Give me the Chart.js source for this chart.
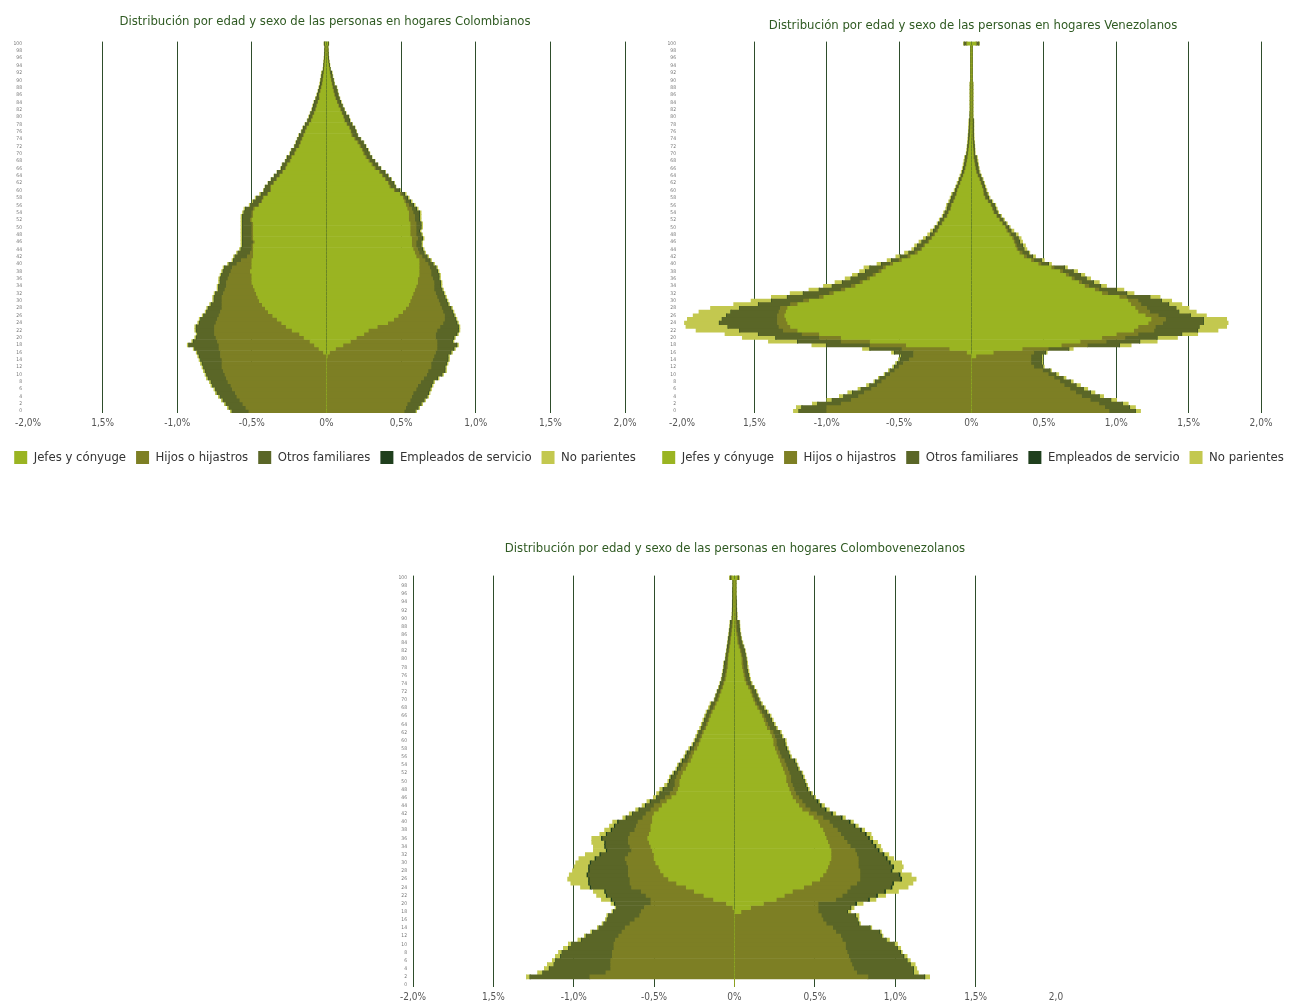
<!DOCTYPE html>
<html lang="es">
<head>
<meta charset="utf-8">
<title>Distribución por edad y sexo</title>
<script src="https://cdn.jsdelivr.net/npm/chart.js@4.4.1/dist/chart.umd.min.js"></script>
<style>
  html, body { margin: 0; padding: 0; background: #fff; overflow: hidden; }
  body { width: 1296px; height: 1002px; position: relative; }
  .box { position: absolute; }
</style>
</head>
<body>
<div class="box" style="left:0;top:0;width:650px;height:474px"><canvas id="chartCol"></canvas></div>
<div class="box" style="left:650px;top:0;width:646px;height:474px"><canvas id="chartVen"></canvas></div>
<div class="box" style="left:380px;top:520px;width:710px;height:482px"><canvas id="chartMix"></canvas></div>
<script>
// edades 0..100 (categorías del eje vertical)
const ages = Array.from({length: 101}, (_, i) => String(i));

const seriesNames = ['Jefes y cónyuge', 'Hijos o hijastros', 'Otros familiares', 'Empleados de servicio', 'No parientes'];
const seriesColors = ['#9ab422', '#7d7f24', '#5a6627', '#1f3f1d', '#c3c84f'];

const xLabelsComa = ['-2,0%', '1,5%', '-1,0%', '-0,5%', '0%', '0,5%', '1,0%', '1,5%', '2,0%'];
const xLabelsMix = ['-2,0%', '1,5%', '-1,0%', '-0,5%', '0%', '0,5%', '1,0%', '1,5%', '2,0'];

// ---- Hogares colombianos: hombres (% del total, se dibujan a la izquierda)
const colHJefes = [0,0,0,0,0,0,0,0,0,0,
  0,0,0,0,0,0,0.02,0.05,0.08,0.11,
  0.15,0.18,0.23,0.27,0.30,0.33,0.36,0.39,0.41,0.43,
  0.45,0.46,0.47,0.48,0.49,0.50,0.50,0.50,0.51,0.50,
  0.50,0.50,0.49,0.49,0.49,0.49,0.48,0.49,0.49,0.49,
  0.49,0.49,0.50,0.49,0.49,0.48,0.45,0.43,0.42,0.39,
  0.37,0.37,0.35,0.33,0.31,0.29,0.27,0.26,0.24,0.23,
  0.21,0.20,0.18,0.17,0.16,0.15,0.14,0.13,0.115,0.10,
  0.09,0.08,0.07,0.063,0.055,0.045,0.046,0.038,0.032,0.026,
  0.022,0.019,0.016,0.014,0.011,0.009,0.007,0.005,0.004,0.003,
  0.008];
const colHHijos = [0.52,0.54,0.56,0.58,0.60,0.61,0.63,0.64,0.66,0.67,
  0.68,0.69,0.70,0.70,0.70,0.71,0.69,0.67,0.64,0.62,
  0.59,0.57,0.52,0.48,0.44,0.40,0.36,0.32,0.29,0.27,
  0.25,0.24,0.22,0.20,0.18,0.17,0.16,0.15,0.13,0.13,
  0.10,0.07,0.04,0.02,0.01,0.01,0.01,0.01,0.01,0.01,
  0.01,0.01,0.01,0.01,0.01,0.01,0.005,0.005,0.005,0.005,
  0.005,0.005,0.005,0.005,0.005,0.005,0.005,0.005,0.005,0.005,
  0.005,0.005,0.005,0.005,0.005,0.005,0.003,0.003,0.003,0.003,
  0.003,0.003,0.003,0.003,0.003,0.003,0.003,0.003,0.003,0.003,
  0.003,0.001,0.001,0.001,0.001,0.001,0.001,0.001,0.001,0.001,
  0];
const colHOtros = [0.11,0.11,0.11,0.11,0.11,0.12,0.11,0.12,0.11,0.12,
  0.12,0.12,0.12,0.13,0.14,0.14,0.15,0.16,0.20,0.16,
  0.13,0.11,0.12,0.12,0.11,0.11,0.10,0.09,0.09,0.07,
  0.05,0.05,0.05,0.04,0.05,0.04,0.05,0.05,0.05,0.05,
  0.05,0.05,0.08,0.08,0.07,0.06,0.07,0.06,0.06,0.06,
  0.06,0.06,0.05,0.06,0.05,0.05,0.05,0.05,0.04,0.04,
  0.04,0.03,0.03,0.03,0.03,0.03,0.025,0.025,0.025,0.025,
  0.025,0.025,0.025,0.025,0.025,0.025,0.02,0.02,0.02,0.02,
  0.02,0.02,0.02,0.02,0.02,0.02,0.01,0.01,0.01,0.01,
  0.01,0.01,0.01,0.005,0.005,0.005,0.005,0.005,0.005,0.005,
  0.004];
const colHEmpleados = [0.003,0.003,0.003,0.003,0.003,0.003,0.003,0.003,0.003,0.003,
  0.003,0.003,0.003,0.003,0.003,0.003,0.003,0.003,0.003,0.003,
  0.003,0.003,0.003,0.003,0.003,0.003,0.003,0.003,0.003,0.003,
  0.003,0.003,0.003,0.003,0.003,0.003,0.003,0.003,0.003,0.003,
  0.003,0.003,0.003,0.003,0.003,0.003,0.003,0.003,0.003,0.003,
  0.003,0.003,0.003,0.003,0.003,0.003,0.003,0.003,0.003,0.003,
  0.003,0.003,0.003,0.003,0.003,0.003,0.003,0.003,0.003,0.003,
  0.002,0.002,0.002,0.002,0.002,0.002,0.002,0.002,0.002,0.002,
  0.002,0.002,0.002,0.002,0.002,0.002,0.002,0.002,0.002,0.002,
  0.002,0.002,0.002,0.001,0.001,0.001,0.001,0.001,0.001,0.001,
  0.001];
const colHNoPar = [0.01,0.01,0.01,0.01,0.01,0.01,0.01,0.01,0.01,0.01,
  0.01,0.01,0.01,0.01,0.01,0.01,0.01,0.01,0.01,0.01,
  0.01,0.01,0.01,0.01,0.01,0.01,0.01,0.01,0.01,0.01,
  0.01,0.01,0.01,0.01,0.01,0.01,0.01,0.01,0.01,0.01,
  0.01,0.01,0.01,0.01,0.01,0.01,0.01,0.01,0.01,0.01,
  0.01,0.01,0.01,0.01,0.01,0.01,0.01,0.01,0.01,0.01,
  0.005,0.005,0.005,0.005,0.005,0.005,0.005,0.005,0.005,0.005,
  0.005,0.005,0.005,0.005,0.005,0.005,0.005,0.005,0.005,0.005,
  0.005,0.005,0.005,0.005,0.005,0.005,0.005,0.005,0.005,0.005,
  0.005,0.005,0.005,0.003,0.003,0.003,0.003,0.003,0.003,0.003,
  0.003];

// ---- Hogares colombianos: mujeres (a la derecha)
const colMJefes = [0,0,0,0,0,0,0,0,0,0,
  0,0,0,0,0,0.005,0.02,0.06,0.11,0.16,
  0.20,0.25,0.28,0.34,0.41,0.45,0.48,0.51,0.53,0.55,
  0.56,0.57,0.58,0.59,0.60,0.61,0.61,0.62,0.62,0.62,
  0.62,0.62,0.60,0.59,0.58,0.57,0.57,0.57,0.56,0.56,
  0.56,0.56,0.55,0.55,0.55,0.54,0.53,0.52,0.51,0.49,
  0.45,0.42,0.41,0.39,0.37,0.35,0.32,0.30,0.28,0.26,
  0.245,0.235,0.22,0.205,0.185,0.165,0.16,0.15,0.133,0.118,
  0.11,0.10,0.09,0.078,0.068,0.058,0.05,0.044,0.038,0.033,
  0.028,0.024,0.02,0.017,0.013,0.009,0.006,0.004,0.003,0.002,
  0.008];
const colMHijos = [0.52,0.53,0.54,0.56,0.57,0.58,0.60,0.61,0.63,0.65,
  0.67,0.68,0.70,0.70,0.71,0.715,0.71,0.68,0.63,0.58,
  0.53,0.48,0.46,0.42,0.37,0.34,0.31,0.27,0.24,0.21,
  0.19,0.17,0.15,0.13,0.12,0.11,0.10,0.08,0.08,0.07,
  0.06,0.04,0.04,0.03,0.03,0.03,0.03,0.04,0.04,0.04,
  0.04,0.04,0.04,0.04,0.03,0.03,0.02,0.01,0.01,0.01,
  0.008,0.008,0.008,0.008,0.008,0.008,0.008,0.008,0.008,0.008,
  0.008,0.008,0.008,0.008,0.008,0.008,0.004,0.004,0.004,0.004,
  0.004,0.004,0.004,0.004,0.004,0.004,0.004,0.004,0.004,0.004,
  0.004,0.001,0.001,0.001,0.001,0.001,0.001,0.001,0.001,0.001,
  0];
const colMOtros = [0.07,0.08,0.09,0.09,0.10,0.10,0.09,0.09,0.08,0.09,
  0.10,0.11,0.09,0.10,0.10,0.09,0.10,0.11,0.13,0.10,
  0.12,0.14,0.14,0.12,0.09,0.07,0.06,0.06,0.06,0.05,
  0.05,0.05,0.05,0.05,0.04,0.04,0.04,0.05,0.04,0.04,
  0.03,0.03,0.03,0.03,0.03,0.03,0.03,0.03,0.03,0.02,
  0.03,0.03,0.03,0.03,0.04,0.03,0.03,0.03,0.02,0.02,
  0.03,0.03,0.03,0.03,0.03,0.03,0.03,0.03,0.03,0.03,
  0.03,0.03,0.03,0.03,0.03,0.03,0.03,0.03,0.03,0.03,
  0.03,0.02,0.02,0.02,0.02,0.02,0.02,0.02,0.02,0.01,
  0.01,0.01,0.01,0.005,0.005,0.005,0.005,0.005,0.005,0.005,
  0.004];
const colMEmpleados = [0.004,0.004,0.004,0.004,0.004,0.004,0.004,0.004,0.004,0.004,
  0.004,0.004,0.004,0.004,0.004,0.004,0.004,0.004,0.004,0.004,
  0.004,0.004,0.004,0.004,0.004,0.004,0.004,0.004,0.004,0.004,
  0.004,0.004,0.004,0.004,0.004,0.004,0.004,0.004,0.004,0.004,
  0.004,0.004,0.004,0.004,0.004,0.004,0.004,0.004,0.004,0.004,
  0.004,0.004,0.004,0.004,0.004,0.004,0.004,0.004,0.004,0.004,
  0.003,0.003,0.003,0.003,0.003,0.003,0.003,0.003,0.003,0.003,
  0.003,0.003,0.003,0.003,0.003,0.003,0.003,0.003,0.003,0.003,
  0.003,0.003,0.003,0.003,0.003,0.003,0.003,0.003,0.003,0.003,
  0.003,0.003,0.003,0.001,0.001,0.001,0.001,0.001,0.001,0.001,
  0.001];
const colMNoPar = [0.01,0.01,0.01,0.01,0.01,0.01,0.01,0.01,0.01,0.01,
  0.01,0.01,0.01,0.01,0.01,0.01,0.01,0.01,0.01,0.01,
  0.01,0.01,0.01,0.01,0.01,0.01,0.01,0.01,0.01,0.01,
  0.01,0.01,0.01,0.01,0.01,0.01,0.01,0.01,0.01,0.01,
  0.01,0.01,0.01,0.01,0.01,0.01,0.01,0.01,0.01,0.01,
  0.01,0.01,0.01,0.01,0.01,0.01,0.01,0.01,0.01,0.01,
  0.005,0.005,0.005,0.005,0.005,0.005,0.005,0.005,0.005,0.005,
  0.005,0.005,0.005,0.005,0.005,0.005,0.005,0.005,0.005,0.005,
  0.005,0.005,0.005,0.005,0.005,0.005,0.005,0.005,0.005,0.005,
  0.005,0.005,0.005,0.003,0.003,0.003,0.003,0.003,0.003,0.003,
  0.003];

// ---- Hogares venezolanos: hombres
const venHJefes = [0,0,0,0,0,0,0,0,0,0,
  0,0,0,0,0,0,0.03,0.15,0.45,0.70,
  0.90,1.05,1.20,1.25,1.27,1.28,1.29,1.28,1.27,1.20,
  1.12,1.02,0.95,0.87,0.80,0.75,0.70,0.66,0.62,0.59,
  0.54,0.48,0.42,0.37,0.34,0.32,0.29,0.27,0.25,0.23,
  0.22,0.20,0.185,0.165,0.155,0.14,0.135,0.12,0.11,0.10,
  0.095,0.085,0.075,0.065,0.055,0.046,0.039,0.033,0.028,0.024,
  0.021,0.018,0.015,0.012,0.010,0.008,0.006,0.005,0.004,0.003,
  0.003,0.003,0.002,0.002,0.002,0.002,0.002,0.002,0.002,0.002,
  0.002,0.002,0.002,0.002,0.002,0.002,0.002,0.002,0.002,0.002,
  0.03];
const venHHijos = [1.00,1.00,0.90,0.83,0.78,0.74,0.69,0.65,0.62,0.59,
  0.56,0.53,0.50,0.47,0.43,0.40,0.37,0.33,0.25,0.20,
  0.15,0.12,0.10,0.08,0.07,0.06,0.05,0.05,0.05,0.05,
  0.04,0.03,0.03,0.03,0.03,0.02,0.02,0.02,0.02,0.02,
  0.02,0.02,0.02,0.02,0.01,0.01,0.01,0.01,0.01,0.01,
  0.005,0.005,0.005,0.005,0.005,0.005,0.005,0.005,0.005,0.005,
  0.003,0.003,0.003,0.003,0.003,0.003,0.003,0.003,0.003,0.003,
  0.002,0.002,0.002,0.002,0.002,0.002,0.002,0.002,0.002,0.002,
  0.001,0.001,0.001,0.001,0.001,0.001,0.001,0.001,0.001,0.001,
  0.001,0.001,0.001,0.001,0.001,0.001,0.001,0.001,0.001,0.001,
  0.005];
const venHOtros = [0.19,0.17,0.16,0.13,0.10,0.08,0.07,0.05,0.04,0.04,
  0.03,0.03,0.03,0.04,0.06,0.08,0.13,0.22,0.30,0.30,
  0.30,0.30,0.30,0.35,0.40,0.38,0.35,0.33,0.28,0.22,
  0.22,0.22,0.18,0.15,0.13,0.12,0.11,0.10,0.09,0.09,
  0.06,0.05,0.05,0.04,0.04,0.04,0.04,0.03,0.02,0.02,
  0.02,0.02,0.02,0.02,0.02,0.02,0.02,0.02,0.02,0.02,
  0.012,0.012,0.012,0.012,0.012,0.012,0.012,0.012,0.012,0.012,
  0.008,0.008,0.008,0.008,0.008,0.008,0.008,0.008,0.008,0.008,
  0.005,0.005,0.005,0.005,0.005,0.005,0.005,0.005,0.005,0.005,
  0.002,0.002,0.002,0.002,0.002,0.002,0.002,0.002,0.002,0.002,
  0.015];
const venHEmpleados = [0.003,0.003,0.003,0.003,0.003,0.003,0.003,0.003,0.003,0.003,
  0.003,0.003,0.003,0.003,0.003,0.003,0.003,0.003,0.003,0.003,
  0.003,0.003,0.003,0.003,0.003,0.003,0.003,0.003,0.003,0.003,
  0.003,0.003,0.003,0.003,0.003,0.003,0.003,0.003,0.003,0.003,
  0.003,0.003,0.003,0.003,0.003,0.003,0.003,0.003,0.003,0.003,
  0.003,0.003,0.003,0.003,0.003,0.003,0.003,0.003,0.003,0.003,
  0.002,0.002,0.002,0.002,0.002,0.002,0.002,0.002,0.002,0.002,
  0.001,0.001,0.001,0.001,0.001,0.001,0.001,0.001,0.001,0.001,
  0.001,0.001,0.001,0.001,0.001,0.001,0.001,0.001,0.001,0.001,
  0.001,0.001,0.001,0.001,0.001,0.001,0.001,0.001,0.001,0.001,
  0.001];
const venHNoPar = [0.035,0.035,0.035,0.035,0.03,0.03,0.02,0.02,0.01,0.01,
  0.01,0.01,0.01,0.01,0.01,0.01,0.02,0.05,0.10,0.20,
  0.23,0.23,0.30,0.29,0.24,0.24,0.23,0.22,0.20,0.17,
  0.14,0.11,0.09,0.07,0.06,0.05,0.04,0.04,0.04,0.04,
  0.03,0.03,0.03,0.03,0.02,0.02,0.02,0.02,0.02,0.02,
  0.01,0.01,0.01,0.01,0.01,0.01,0.01,0.01,0.01,0.01,
  0.008,0.008,0.008,0.008,0.008,0.008,0.008,0.008,0.008,0.008,
  0.005,0.005,0.005,0.005,0.005,0.005,0.005,0.005,0.005,0.005,
  0.003,0.003,0.003,0.003,0.003,0.003,0.003,0.003,0.003,0.003,
  0.001,0.001,0.001,0.001,0.001,0.001,0.001,0.001,0.001,0.001,
  0.005];

// ---- Hogares venezolanos: mujeres
const venMJefes = [0,0,0,0,0,0,0,0,0,0,
  0,0,0,0,0,0.03,0.15,0.35,0.62,0.75,
  0.90,1.00,1.12,1.15,1.22,1.24,1.20,1.15,1.13,1.10,
  1.08,1.02,0.90,0.85,0.78,0.74,0.69,0.65,0.61,0.55,
  0.46,0.41,0.36,0.33,0.31,0.30,0.29,0.28,0.26,0.24,
  0.23,0.21,0.19,0.17,0.15,0.14,0.13,0.11,0.09,0.08,
  0.078,0.07,0.061,0.052,0.04,0.03,0.025,0.02,0.016,0.012,
  0.011,0.010,0.008,0.006,0.004,0.003,0.002,0.002,0.002,0.002,
  0.002,0.002,0.002,0.002,0.002,0.002,0.002,0.002,0.002,0.002,
  0.002,0.002,0.002,0.002,0.002,0.002,0.002,0.002,0.002,0.002,
  0.03];
const venMHijos = [0.95,0.92,0.88,0.82,0.76,0.72,0.68,0.64,0.61,0.57,
  0.53,0.49,0.43,0.41,0.41,0.38,0.28,0.18,0.18,0.18,
  0.16,0.15,0.14,0.12,0.10,0.10,0.09,0.08,0.08,0.07,
  0.07,0.05,0.04,0.03,0.03,0.02,0.02,0.02,0.02,0.02,
  0.02,0.02,0.02,0.02,0.01,0.01,0.01,0.01,0.01,0.01,
  0.005,0.005,0.005,0.005,0.005,0.005,0.005,0.005,0.005,0.005,
  0.004,0.004,0.004,0.004,0.004,0.004,0.004,0.004,0.004,0.004,
  0.002,0.002,0.002,0.002,0.002,0.002,0.002,0.002,0.002,0.002,
  0.001,0.001,0.001,0.001,0.001,0.001,0.001,0.001,0.001,0.001,
  0.001,0.001,0.001,0.001,0.001,0.001,0.001,0.001,0.001,0.001,
  0.005];
const venMOtros = [0.18,0.17,0.16,0.14,0.12,0.10,0.09,0.08,0.07,0.06,
  0.05,0.05,0.06,0.07,0.07,0.07,0.08,0.14,0.22,0.23,
  0.22,0.30,0.30,0.30,0.28,0.26,0.22,0.20,0.20,0.19,
  0.16,0.16,0.13,0.12,0.08,0.08,0.08,0.08,0.07,0.07,
  0.05,0.05,0.04,0.04,0.04,0.04,0.03,0.03,0.03,0.02,
  0.02,0.02,0.02,0.02,0.02,0.02,0.02,0.02,0.02,0.02,
  0.015,0.015,0.015,0.015,0.015,0.015,0.015,0.015,0.015,0.015,
  0.008,0.008,0.008,0.008,0.008,0.008,0.008,0.008,0.008,0.008,
  0.005,0.005,0.005,0.005,0.005,0.005,0.005,0.005,0.005,0.005,
  0.002,0.002,0.002,0.002,0.002,0.002,0.002,0.002,0.002,0.002,
  0.015];
const venMEmpleados = [0.003,0.003,0.003,0.003,0.003,0.003,0.003,0.003,0.003,0.003,
  0.003,0.003,0.003,0.003,0.003,0.003,0.003,0.003,0.003,0.003,
  0.003,0.003,0.003,0.003,0.003,0.003,0.003,0.003,0.003,0.003,
  0.003,0.003,0.003,0.003,0.003,0.003,0.003,0.003,0.003,0.003,
  0.003,0.003,0.003,0.003,0.003,0.003,0.003,0.003,0.003,0.003,
  0.003,0.003,0.003,0.003,0.003,0.003,0.003,0.003,0.003,0.003,
  0.002,0.002,0.002,0.002,0.002,0.002,0.002,0.002,0.002,0.002,
  0.001,0.001,0.001,0.001,0.001,0.001,0.001,0.001,0.001,0.001,
  0.001,0.001,0.001,0.001,0.001,0.001,0.001,0.001,0.001,0.001,
  0.001,0.001,0.001,0.001,0.001,0.001,0.001,0.001,0.001,0.001,
  0.001];
const venMNoPar = [0.035,0.04,0.04,0.04,0.03,0.03,0.03,0.03,0.02,0.02,
  0.02,0.01,0.01,0.01,0.01,0.01,0.01,0.03,0.08,0.12,
  0.14,0.11,0.14,0.19,0.17,0.16,0.11,0.12,0.09,0.09,
  0.07,0.07,0.05,0.05,0.04,0.04,0.03,0.03,0.03,0.02,
  0.02,0.02,0.02,0.01,0.02,0.02,0.02,0.02,0.02,0.02,
  0.01,0.01,0.01,0.01,0.01,0.01,0.01,0.01,0.01,0.01,
  0.008,0.008,0.008,0.008,0.008,0.008,0.008,0.008,0.008,0.008,
  0.004,0.004,0.004,0.004,0.004,0.004,0.004,0.004,0.004,0.004,
  0.003,0.003,0.003,0.003,0.003,0.003,0.003,0.003,0.003,0.003,
  0.001,0.001,0.001,0.001,0.001,0.001,0.001,0.001,0.001,0.001,
  0.005];

// ---- Hogares colombovenezolanos: hombres
const mixHJefes = [0,0,0,0,0,0,0,0,0,0,
  0,0,0,0,0,0,0,0,0,0.01,
  0.05,0.13,0.19,0.25,0.30,0.36,0.41,0.44,0.46,0.47,
  0.49,0.50,0.50,0.51,0.52,0.53,0.54,0.53,0.52,0.52,
  0.51,0.51,0.50,0.47,0.45,0.42,0.39,0.36,0.35,0.34,
  0.34,0.33,0.32,0.30,0.29,0.27,0.26,0.25,0.23,0.22,
  0.21,0.20,0.19,0.175,0.165,0.155,0.145,0.135,0.12,0.11,
  0.097,0.09,0.08,0.07,0.062,0.053,0.048,0.044,0.04,0.038,
  0.037,0.035,0.03,0.027,0.023,0.02,0.016,0.013,0.01,0.008,
  0.007,0.006,0.005,0.004,0.004,0.003,0.003,0.003,0.002,0.002,
  0.015];
const mixHHijos = [0,0,0.90,0.80,0.77,0.77,0.77,0.76,0.76,0.75,
  0.75,0.74,0.72,0.70,0.68,0.65,0.62,0.59,0.58,0.55,
  0.47,0.39,0.36,0.33,0.34,0.29,0.24,0.22,0.20,0.19,
  0.18,0.18,0.16,0.13,0.13,0.13,0.12,0.12,0.10,0.09,
  0.09,0.06,0.05,0.05,0.05,0.04,0.04,0.04,0.03,0.03,
  0.03,0.03,0.03,0.03,0.03,0.02,0.02,0.02,0.02,0.02,
  0.01,0.01,0.01,0.01,0.01,0.01,0.01,0.01,0.01,0.01,
  0.008,0.008,0.008,0.008,0.008,0.008,0.008,0.008,0.008,0.008,
  0.005,0.005,0.005,0.005,0.005,0.005,0.005,0.005,0.005,0.005,
  0.003,0.003,0.003,0.003,0.003,0.003,0.003,0.003,0.003,0.003,
  0.005];
const mixHOtros = [0,0,0.37,0.39,0.38,0.35,0.34,0.32,0.31,0.28,
  0.26,0.21,0.20,0.18,0.16,0.16,0.17,0.19,0.17,0.17,
  0.22,0.24,0.24,0.22,0.25,0.25,0.25,0.25,0.24,0.24,
  0.22,0.18,0.17,0.15,0.15,0.14,0.16,0.14,0.14,0.13,
  0.12,0.10,0.08,0.07,0.05,0.06,0.05,0.06,0.06,0.04,
  0.03,0.03,0.02,0.02,0.02,0.03,0.02,0.02,0.02,0.01,
  0.02,0.02,0.02,0.02,0.02,0.02,0.02,0.02,0.02,0.02,
  0.015,0.015,0.015,0.015,0.015,0.015,0.015,0.015,0.015,0.015,
  0.01,0.01,0.01,0.01,0.01,0.01,0.01,0.01,0.01,0.01,
  0.003,0.003,0.003,0.003,0.003,0.003,0.003,0.003,0.003,0.003,
  0.005];
const mixHEmpleados = [0,0,0.003,0.003,0.003,0.003,0.003,0.003,0.003,0.003,
  0.003,0.003,0.003,0.003,0.003,0.003,0.003,0.003,0.003,0.003,
  0.008,0.008,0.008,0.008,0.008,0.008,0.008,0.008,0.008,0.008,
  0.008,0.008,0.008,0.008,0.008,0.008,0.008,0.008,0.008,0.008,
  0.008,0.005,0.005,0.005,0.005,0.005,0.005,0.005,0.005,0.005,
  0.005,0.005,0.005,0.005,0.005,0.005,0.005,0.005,0.005,0.005,
  0.002,0.002,0.002,0.002,0.002,0.002,0.002,0.002,0.002,0.002,
  0.002,0.002,0.002,0.002,0.002,0.002,0.002,0.002,0.002,0.002,
  0.002,0.002,0.002,0.002,0.002,0.002,0.002,0.002,0.002,0.002,
  0.002,0.002,0.002,0.002,0.002,0.002,0.002,0.002,0.002,0.002,
  0.002];
const mixHNoPar = [0,0,0.02,0.03,0.03,0.04,0.02,0.03,0.02,0.03,
  0.02,0.02,0.01,0.01,0.01,0.01,0.01,0.01,0.01,0.01,
  0.02,0.06,0.06,0.07,0.06,0.11,0.13,0.11,0.10,0.09,
  0.09,0.10,0.09,0.08,0.07,0.08,0.06,0.04,0.04,0.03,
  0.03,0.02,0.02,0.02,0.02,0.02,0.02,0.02,0.02,0.02,
  0.01,0.01,0.01,0.01,0.01,0.01,0.01,0.01,0.01,0.01,
  0.01,0.01,0.01,0.01,0.01,0.01,0.01,0.01,0.01,0.01,
  0.005,0.005,0.005,0.005,0.005,0.005,0.005,0.005,0.005,0.005,
  0.004,0.004,0.004,0.004,0.004,0.004,0.004,0.004,0.004,0.004,
  0.002,0.002,0.002,0.002,0.002,0.002,0.002,0.002,0.002,0.002,
  0.005];

// ---- Hogares colombovenezolanos: mujeres
const mixMJefes = [0,0,0,0,0,0,0,0,0,0,
  0,0,0,0,0,0,0,0,0.04,0.10,
  0.18,0.26,0.31,0.36,0.43,0.48,0.53,0.55,0.57,0.58,
  0.59,0.60,0.60,0.60,0.59,0.58,0.57,0.56,0.55,0.53,
  0.52,0.49,0.46,0.42,0.40,0.38,0.36,0.35,0.34,0.33,
  0.32,0.32,0.31,0.30,0.29,0.28,0.27,0.26,0.25,0.24,
  0.24,0.23,0.22,0.20,0.19,0.18,0.17,0.155,0.14,0.125,
  0.115,0.105,0.097,0.083,0.069,0.06,0.055,0.05,0.045,0.042,
  0.042,0.037,0.032,0.024,0.016,0.015,0.01,0.006,0.004,0.003,
  0.003,0.003,0.002,0.002,0.002,0.001,0.001,0.001,0.001,0.001,
  0.015];
const mixMHijos = [0,0,0.83,0.76,0.74,0.73,0.72,0.71,0.70,0.69,
  0.69,0.67,0.66,0.63,0.61,0.57,0.55,0.54,0.48,0.42,
  0.34,0.37,0.36,0.34,0.29,0.28,0.25,0.23,0.21,0.19,
  0.18,0.17,0.16,0.15,0.13,0.12,0.11,0.10,0.09,0.08,
  0.07,0.06,0.05,0.05,0.04,0.04,0.04,0.03,0.03,0.03,
  0.03,0.03,0.03,0.03,0.03,0.03,0.02,0.02,0.02,0.02,
  0.02,0.02,0.02,0.018,0.016,0.015,0.014,0.013,0.012,0.011,
  0.01,0.01,0.01,0.01,0.01,0.01,0.01,0.01,0.01,0.01,
  0.008,0.008,0.008,0.008,0.008,0.008,0.008,0.008,0.008,0.008,
  0.004,0.004,0.004,0.004,0.004,0.004,0.004,0.004,0.004,0.004,
  0.005];
const mixMOtros = [0,0,0.35,0.35,0.37,0.36,0.35,0.34,0.33,0.32,
  0.30,0.27,0.25,0.27,0.23,0.20,0.21,0.21,0.18,0.20,
  0.23,0.20,0.21,0.23,0.25,0.22,0.25,0.24,0.19,0.21,
  0.19,0.17,0.16,0.14,0.15,0.15,0.15,0.15,0.14,0.13,
  0.12,0.11,0.09,0.09,0.09,0.09,0.09,0.09,0.08,0.08,
  0.08,0.07,0.07,0.06,0.06,0.06,0.05,0.05,0.05,0.05,
  0.05,0.04,0.04,0.038,0.036,0.034,0.032,0.03,0.028,0.026,
  0.025,0.024,0.023,0.022,0.021,0.02,0.02,0.02,0.02,0.02,
  0.02,0.02,0.02,0.02,0.02,0.015,0.015,0.015,0.015,0.015,
  0.005,0.005,0.004,0.003,0.003,0.003,0.002,0.002,0.002,0.002,
  0.005];
const mixMEmpleados = [0,0,0.004,0.004,0.004,0.004,0.004,0.004,0.004,0.004,
  0.004,0.004,0.004,0.004,0.004,0.004,0.004,0.004,0.004,0.004,
  0.01,0.01,0.01,0.01,0.01,0.01,0.01,0.01,0.01,0.01,
  0.01,0.01,0.01,0.01,0.01,0.01,0.01,0.01,0.01,0.01,
  0.01,0.01,0.01,0.01,0.01,0.01,0.005,0.005,0.005,0.005,
  0.005,0.005,0.005,0.005,0.005,0.005,0.005,0.005,0.005,0.005,
  0.002,0.002,0.002,0.002,0.002,0.002,0.002,0.002,0.002,0.002,
  0.002,0.002,0.002,0.002,0.002,0.002,0.002,0.002,0.002,0.002,
  0.002,0.002,0.002,0.002,0.002,0.002,0.002,0.002,0.002,0.002,
  0.002,0.002,0.002,0.002,0.002,0.002,0.002,0.002,0.002,0.002,
  0.001];
const mixMNoPar = [0,0,0.03,0.03,0.02,0.03,0.02,0.02,0.01,0.02,
  0.02,0.02,0.01,0.01,0.01,0.01,0.01,0.02,0.02,0.02,
  0.04,0.04,0.05,0.08,0.10,0.12,0.09,0.07,0.06,0.06,
  0.07,0.04,0.03,0.02,0.03,0.03,0.02,0.03,0.02,0.02,
  0.02,0.02,0.02,0.02,0.02,0.01,0.01,0.01,0.01,0.01,
  0.01,0.01,0.01,0.01,0.01,0.01,0.01,0.01,0.01,0.01,
  0.01,0.01,0.01,0.01,0.01,0.01,0.01,0.01,0.01,0.01,
  0.008,0.008,0.008,0.008,0.008,0.008,0.008,0.008,0.008,0.008,
  0.006,0.006,0.006,0.006,0.006,0.005,0.005,0.005,0.005,0.005,
  0.003,0.003,0.003,0.003,0.003,0.003,0.003,0.003,0.003,0.003,
  0.005];

const FONT = "'Liberation Sans Narrow', 'DejaVu Sans Condensed', 'Roboto Condensed', 'Noto Sans', sans-serif";
const GRID = '#2e4d2b';

function makePyramid(canvasId, opts) {
  const datasets = [];
  // hombres a la izquierda (valores negativos), mujeres a la derecha
  opts.hombres.forEach((serie, k) => {
    datasets.push({
      label: seriesNames[k],
      data: serie.map(v => -v),
      backgroundColor: seriesColors[k],
      borderWidth: 0,
      barPercentage: 1,
      categoryPercentage: 1
    });
  });
  opts.mujeres.forEach((serie, k) => {
    datasets.push({
      label: seriesNames[k],
      data: serie,
      backgroundColor: seriesColors[k],
      borderWidth: 0,
      barPercentage: 1,
      categoryPercentage: 1
    });
  });

  return new Chart(document.getElementById(canvasId), {
    type: 'bar',
    data: { labels: ages, datasets: datasets },
    options: {
      indexAxis: 'y',
      responsive: true,
      maintainAspectRatio: false,
      animation: false,
      layout: { padding: 0 },
      plugins: {
        title: {
          display: true,
          text: opts.title,
          color: '#2f5a22',
          font: { family: FONT, size: 13, weight: 'normal' },
          padding: opts.titlePadding
        },
        legend: {
          display: opts.legend,
          position: 'bottom',
          labels: {
            filter: item => item.datasetIndex < 5,
            boxWidth: 13,
            boxHeight: 13,
            padding: 10,
            color: '#333',
            font: { family: FONT, size: 13 }
          }
        },
        tooltip: { enabled: false }
      },
      scales: {
        x: {
          type: 'linear',
          min: -2,
          max: 2,
          stacked: true,
          z: 1,
          ticks: {
            stepSize: 0.5,
            padding: 4,
            color: '#555',
            font: { family: FONT, size: 10 },
            callback: (value, index) => opts.xLabels[index]
          },
          grid: {
            drawTicks: false,
            lineWidth: 1,
            color: ctx => (ctx.tick && ctx.tick.value === opts.noGrid) ? 'rgba(0,0,0,0)' : GRID
          },
          border: { display: false },
          afterFit: s => { s.height = opts.xAxisH; }
        },
        y: {
          type: 'category',
          reverse: true,
          stacked: true,
          ticks: {
            autoSkip: false,
            padding: 6,
            color: '#777',
            font: { family: FONT, size: 5 },
            callback: (value, index) => (index % 2 === 0 ? ages[index] : '')
          },
          grid: { display: false, drawTicks: false },
          border: { display: false },
          afterFit: s => { s.width = opts.leftW; }
        },
        margen: {
          axis: 'y',
          type: 'linear',
          position: 'right',
          ticks: { display: false },
          grid: { display: false, drawTicks: false },
          border: { display: false },
          afterFit: s => { s.width = opts.rightW; }
        }
      }
    }
  });
}

makePyramid('chartCol', {
  title: 'Distribución por edad y sexo de las personas en hogares Colombianos',
  titlePadding: { top: 14, bottom: 12 },
  legend: true,
  xLabels: xLabelsComa,
  noGrid: -2,
  xAxisH: 28,
  leftW: 28,
  rightW: 25,
  hombres: [colHJefes, colHHijos, colHOtros, colHEmpleados, colHNoPar],
  mujeres: [colMJefes, colMHijos, colMOtros, colMEmpleados, colMNoPar]
});

makePyramid('chartVen', {
  title: 'Distribución por edad y sexo de las personas en hogares Venezolanos',
  titlePadding: { top: 18, bottom: 8 },
  legend: true,
  xLabels: xLabelsComa,
  noGrid: -2,
  xAxisH: 28,
  leftW: 32,
  rightW: 35,
  hombres: [venHJefes, venHHijos, venHOtros, venHEmpleados, venHNoPar],
  mujeres: [venMJefes, venMHijos, venMOtros, venMEmpleados, venMNoPar]
});

makePyramid('chartMix', {
  title: 'Distribución por edad y sexo de las personas en hogares Colombovenezolanos',
  titlePadding: { top: 21, bottom: 19 },
  legend: false,
  xLabels: xLabelsMix,
  noGrid: 2,
  xAxisH: 15,
  leftW: 33,
  rightW: 34,
  hombres: [mixHJefes, mixHHijos, mixHOtros, mixHEmpleados, mixHNoPar],
  mujeres: [mixMJefes, mixMHijos, mixMOtros, mixMEmpleados, mixMNoPar]
});
</script>
</body>
</html>
